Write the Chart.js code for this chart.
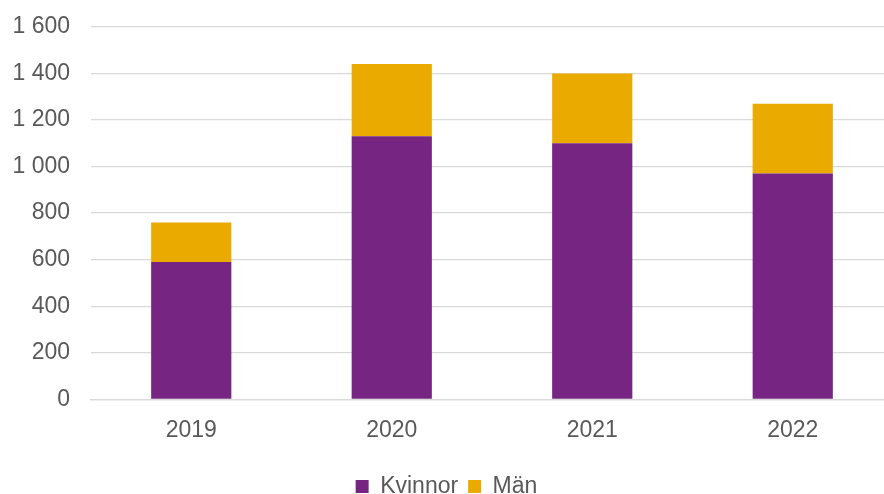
<!DOCTYPE html>
<html>
<head>
<meta charset="utf-8">
<script src="https://cdn.jsdelivr.net/npm/chart.js@4"></script>
<style>
html,body{margin:0;padding:0;background:#fff;overflow:hidden;width:884px;height:494px;}
#wrap{width:900px;height:516px;position:absolute;left:0;top:-8px;}
</style>
</head>
<body>
<div id="wrap"><canvas id="c"></canvas></div>
<script>
const categories = ["2019", "2020", "2021", "2022"];
const kvinnor = [590, 1130, 1100, 970];
const man = [170, 310, 300, 300];
const yTicks = [0, 200, 400, 600, 800, 1000, 1200, 1400, 1600];

const fmt = v => String(v).replace(/\B(?=(\d{3})+(?!\d))/g, " ");
const FONT = "Liberation Sans, Arial, sans-serif";

new Chart(document.getElementById("c"), {
  type: "bar",
  data: {
    labels: categories,
    datasets: [
      { label: "Kvinnor", data: kvinnor, backgroundColor: "#762682", borderWidth: 0 },
      { label: "Män", data: man, backgroundColor: "#EAAA00", borderWidth: 0 }
    ]
  },
  options: {
    responsive: true,
    maintainAspectRatio: false,
    animation: false,
    layout: { padding: { left: 0, right: 7, top: 0, bottom: 0 } },
    datasets: { bar: { barPercentage: 0.4, categoryPercentage: 1.0 } },
    plugins: {
      legend: {
        position: "bottom",
        labels: {
          color: "#595959",
          font: { family: FONT, size: 23 },
          boxWidth: 13, boxHeight: 13, padding: 10
        }
      },
      tooltip: { enabled: false }
    },
    scales: {
      x: {
        stacked: true,
        grid: { display: false, drawTicks: false },
        border: { display: true, color: "#d9d9d9", width: 1.3 },
        ticks: { color: "#595959", font: { family: FONT, size: 23 }, padding: 17 },
        afterFit: s => { s.height += 4; }
      },
      y: {
        stacked: true,
        min: 0, max: 1600,
        afterBuildTicks: ax => { ax.ticks = yTicks.map(v => ({ value: v })); },
        afterFit: s => { s.width = 91; },
        grid: { color: "#d9d9d9", lineWidth: 1.3, drawTicks: false },
        border: { display: false },
        ticks: {
          color: "#595959",
          font: { family: FONT, size: 23 },
          padding: 21,
          callback: v => fmt(v)
        }
      }
    }
  }
});
</script>
</body>
</html>
